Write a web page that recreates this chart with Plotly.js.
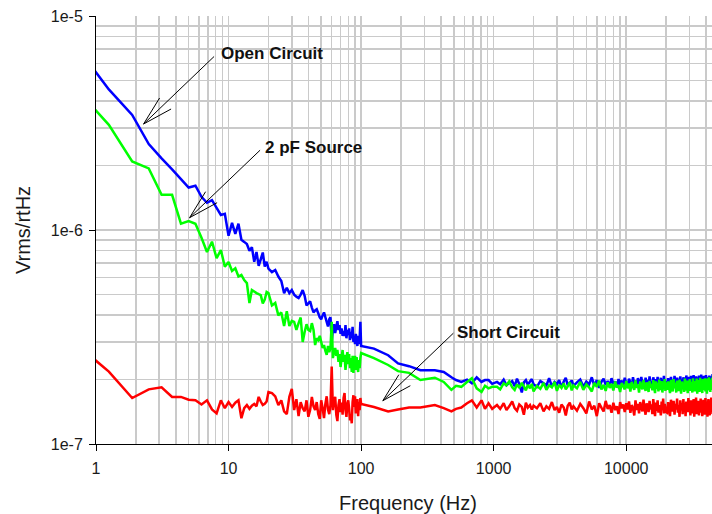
<!DOCTYPE html>
<html>
<head>
<meta charset="utf-8">
<script src="https://cdn.plot.ly/plotly-3.0.1.min.js"></script>
<style>
html,body{margin:0;padding:0;overflow:hidden;background:#fff;}
#chart{width:720px;height:514px;}
</style>
</head>
<body>
<div id="chart"></div>
<script>
// Frequency bins (Hz), shared by all three series
const freqHz = [
  0.625, 1.25, 1.875, 2.5, 3.125, 3.75, 4.375, 5, 5.625, 6.25, 6.875, 7.5, 8.125, 8.75, 9.375, 10,
  10.625, 11.25, 11.875, 12.5, 13.125, 13.75, 14.375, 15, 15.625, 16.25, 16.875, 17.5, 18.125, 18.75, 19.375, 20,
  21.25, 22.5, 23.75, 25, 26.25, 27.5, 28.75, 30, 31.25, 32.5, 33.75, 35, 36.25, 37.5, 38.75, 40,
  41.25, 42.5, 43.75, 45, 46.25, 47.5, 48.75, 50, 51.25, 52.5, 53.75, 55, 56.25, 57.5, 58.75, 60,
  61.25, 62.5, 63.75, 65, 66.25, 67.5, 68.75, 70, 71.25, 72.5, 73.75, 75, 76.25, 77.5, 78.75, 80,
  81.25, 82.5, 83.75, 85, 86.25, 87.5, 88.75, 90, 91.25, 92.5, 93.75, 95, 96.25, 97.5, 98.75, 100,
  125, 160, 190, 230, 280, 360, 420, 480, 520, 570, 630, 685, 745, 810, 860, 915, 975,
  1060, 1120, 1190, 1250, 1310, 1380, 1440, 1500, 1560, 1630, 1690, 1750, 1810, 1880, 1940, 2000,
  2120, 2250, 2380, 2500, 2620, 2750, 2880, 3000, 3120, 3250, 3380, 3500, 3620, 3750, 3880, 4000,
  4250, 4500, 4750, 5000, 5250, 5500, 5750, 6000, 6250, 6500, 6750, 7000, 7250, 7500, 7750, 8000,
  8250, 8500, 8750, 9000, 9250, 9500, 9750, 10000,
  10250, 10500, 10750, 11000, 11250, 11500, 11750, 12000, 12250, 12500, 12750, 13000, 13250, 13500, 13750, 14000,
  14250, 14500, 14750, 15000, 15250, 15500, 15750, 16000, 16250, 16500, 16750, 17000, 17250, 17500, 17750, 18000,
  18250, 18500, 18750, 19000, 19250, 19500, 19750, 20000,
  20350, 20700, 21050, 21400, 21750, 22100, 22450, 22800, 23150, 23500, 23850, 24200, 24550, 24900, 25250, 25600,
  25950, 26300, 26650, 27000, 27350, 27700, 28050, 28400, 28750, 29100, 29450, 29800, 30150, 30500, 30850, 31200,
  31550, 31900, 32250, 32600, 32950, 33300, 33650, 34000, 34350, 34700, 35050, 35400, 35750, 36100, 36450, 36800,
  37150, 37500, 37850, 38200, 38550, 38900, 39250, 39600, 39950, 40300, 40650, 41000, 41350, 41700, 42050, 42400,
  42750, 43100, 43450, 43800, 44150, 44500, 44850, 45200
];

// Noise density, in units of 1e-7 Vrms/rtHz
const openCircuit = [
  80, 45.4, 34.5, 25.2, 21.6, 19.2, 17.3, 15.8, 16.1, 14.3, 13.4, 13.8, 12.7, 11.75, 11.9, 9.4,
  10.8, 9.6, 10.7, 9.0, 8.8, 8.6, 8.0, 8.3, 7.1, 7.9, 6.8, 7.3, 7.85, 6.75, 7.1, 6.6,
  6.36, 6.50, 6.06, 5.78, 5.07, 5.37, 5.07, 5.24, 4.99, 4.88, 4.81, 4.99, 5.24, 4.93, 4.44, 4.54,
  4.64, 4.34, 4.12, 4.21, 4.26, 4.08, 3.91, 3.83, 3.99, 4.12, 3.91, 3.72, 3.54, 3.83, 3.91, 3.00,
  3.41, 3.63, 3.30, 3.53, 3.75, 3.41, 3.59, 3.27, 3.47, 3.20, 3.37, 3.20, 3.59, 3.12, 3.41, 3.23,
  3.47, 3.06, 3.34, 3.12, 3.53, 3.00, 3.20, 2.93, 3.27, 3.06, 2.87, 3.20, 2.93, 3.12, 3.72, 2.87,
  2.79, 2.60, 2.38, 2.31, 2.21, 2.21, 2.17, 2.05, 1.99, 1.95, 2.00, 1.92, 2.05, 1.95, 1.99, 1.99, 1.91,
  1.95, 1.90, 2.00, 1.88, 1.93, 1.97, 1.86, 2.02, 1.91, 1.74, 1.94, 1.99, 1.89, 1.96, 2.01, 1.90,
  1.85, 1.97, 1.92, 1.88, 2.03, 1.86, 1.95, 1.90, 1.99, 1.84, 1.96, 2.04, 1.88, 1.93, 1.98, 1.87,
  1.94, 2.00, 1.85, 1.96, 1.90, 2.05, 1.87, 1.99, 1.83, 1.95, 2.02, 1.89, 1.97, 1.86, 2.03, 1.91,
  1.96, 1.84, 2.01, 1.90, 1.98, 1.87, 2.04, 1.92,
  1.88, 2.02, 1.93, 1.85, 2.05, 1.90, 1.98, 1.86, 2.03, 1.94, 1.89, 2.06, 1.91, 1.97, 1.85, 2.04,
  1.93, 1.99, 1.88, 2.07, 1.92, 1.96, 1.87, 2.05, 1.95, 1.84, 2.01, 1.90, 2.06, 1.88, 1.97, 1.93,
  2.04, 1.86, 1.99, 1.91, 2.08, 1.89, 1.96, 1.92,
  1.90, 2.03, 1.94, 1.86, 2.06, 1.93, 1.99, 1.87, 2.08, 1.95, 1.85, 2.04, 1.89, 2.00, 1.96, 2.07,
  1.92, 1.98, 1.86, 2.05, 1.94, 2.02, 1.88, 2.09, 1.95, 1.99, 1.87, 2.06, 1.97, 1.91, 2.08, 1.90,
  2.03, 1.96, 2.10, 1.89, 2.01, 1.94, 2.07, 1.88, 1.99, 2.05, 1.92, 2.09, 1.87, 2.02, 1.95, 2.11,
  1.90, 2.04, 1.97, 1.88, 2.08, 1.93, 2.00, 1.91, 2.10, 1.95, 2.03, 1.89, 2.06, 1.98, 1.92, 2.09,
  1.94, 2.01, 1.88, 2.07, 1.96, 2.04, 2.12, 1.99
];

const source2pF = [
  49.7, 31.0, 20.9, 19.4, 14.6, 14.6, 10.7, 11.0, 10.7, 9.2, 7.89, 8.82, 7.38, 8.06, 6.74, 7.09,
  6.43, 6.62, 6.06, 6.17, 5.84, 5.65, 4.56, 5.24, 5.16, 5.07, 5.01, 4.96, 4.54, 4.73, 5.13, 5.07,
  4.44, 4.56, 3.99, 4.12, 3.56, 4.17, 3.56, 3.76, 3.72, 3.41, 3.67, 3.90, 3.00, 3.34, 3.63, 3.41,
  3.37, 3.67, 3.41, 2.90, 3.12, 3.06, 3.20, 3.00, 2.81, 2.90, 2.72, 2.61, 2.87, 2.69, 2.81, 3.72,
  2.52, 2.69, 2.81, 2.58, 2.75, 2.42, 2.63, 2.29, 2.52, 2.75, 2.42, 2.61, 2.22, 2.47, 2.69, 2.36,
  2.63, 2.26, 2.52, 2.17, 2.58, 2.15, 2.47, 2.58, 2.22, 2.55, 2.31, 2.17, 2.47, 2.26, 2.52, 2.66,
  2.52, 2.34, 2.19, 2.15, 1.99, 2.04, 1.95, 1.79, 1.87, 1.85, 1.95, 2.03, 1.82, 1.75, 1.87, 1.82, 1.85,
  1.85, 1.80, 1.92, 1.88, 1.96, 1.84, 1.79, 1.90, 1.83, 1.93, 1.86, 1.78, 1.89, 1.82, 1.91, 1.76,
  1.87, 1.81, 1.93, 1.79, 1.88, 1.84, 1.95, 1.77, 1.89, 1.83, 1.92, 1.80, 1.86, 1.94, 1.78, 1.88,
  1.82, 1.95, 1.79, 1.90, 1.84, 1.76, 1.93, 1.85, 1.98, 1.80, 1.89, 1.77, 1.94, 1.83, 1.91, 1.78,
  1.96, 1.84, 1.88, 1.75, 1.93, 1.86, 1.80, 1.97,
  1.82, 1.92, 1.76, 1.95, 1.85, 1.79, 1.98, 1.83, 1.90, 1.74, 1.96, 1.86, 1.80, 1.99, 1.84, 1.77,
  1.94, 1.87, 1.75, 1.97, 1.83, 1.91, 1.78, 1.99, 1.85, 1.73, 1.96, 1.81, 1.93, 1.76, 2.00, 1.84,
  1.79, 1.97, 1.74, 1.90, 1.86, 2.01, 1.77, 1.94,
  1.79, 1.96, 1.84, 1.73, 1.99, 1.86, 1.76, 2.01, 1.82, 1.93, 1.74, 1.98, 1.85, 1.77, 2.00, 1.88,
  1.72, 1.96, 1.83, 1.92, 1.75, 2.02, 1.86, 1.78, 1.98, 1.73, 1.94, 1.84, 2.01, 1.77, 1.95, 1.87,
  1.74, 2.03, 1.81, 1.97, 1.76, 1.92, 1.85, 2.02, 1.72, 1.95, 1.83, 1.99, 1.75, 2.04, 1.80, 1.93,
  1.86, 1.73, 2.01, 1.79, 1.96, 1.84, 2.03, 1.76, 1.91, 1.98, 1.72, 2.02, 1.85, 1.78, 2.05, 1.82,
  1.94, 1.75, 2.00, 1.87, 1.79, 2.04, 1.90, 2.10
];

const shortCircuit = [
  3.13, 2.18, 1.64, 1.80, 1.84, 1.66, 1.66, 1.61, 1.60, 1.53, 1.60, 1.45, 1.39, 1.60, 1.47, 1.57,
  1.49, 1.56, 1.60, 1.32, 1.47, 1.52, 1.46, 1.51, 1.54, 1.50, 1.66, 1.58, 1.52, 1.54, 1.58, 1.75,
  1.73, 1.67, 1.52, 1.60, 1.42, 1.38, 1.66, 1.81, 1.44, 1.62, 1.35, 1.57, 1.47, 1.42, 1.60, 1.34,
  1.44, 1.66, 1.50, 1.44, 1.57, 1.38, 1.31, 1.60, 1.47, 1.32, 1.54, 1.67, 1.45, 1.38, 1.52, 2.30,
  1.44, 1.60, 1.66, 1.37, 1.28, 1.52, 1.62, 1.41, 1.56, 1.37, 1.64, 1.73, 1.44, 1.34, 1.54, 1.60,
  1.46, 1.29, 1.38, 1.25, 1.57, 1.69, 1.49, 1.67, 1.39, 1.52, 1.62, 1.35, 1.57, 1.44, 1.64, 1.54,
  1.49, 1.42, 1.45, 1.48, 1.48, 1.52, 1.47, 1.42, 1.46, 1.48, 1.55, 1.60, 1.48, 1.60, 1.46, 1.55, 1.46,
  1.52, 1.46, 1.55, 1.44, 1.50, 1.58, 1.47, 1.43, 1.53, 1.49, 1.37, 1.56, 1.48, 1.52, 1.45, 1.51,
  1.47, 1.55, 1.42, 1.50, 1.46, 1.57, 1.44, 1.49, 1.40, 1.53, 1.48, 1.36, 1.51, 1.56, 1.45, 1.50,
  1.43, 1.54, 1.47, 1.39, 1.58, 1.45, 1.51, 1.35, 1.55, 1.48, 1.42, 1.59, 1.46, 1.52, 1.40, 1.56,
  1.44, 1.50, 1.38, 1.57, 1.47, 1.53, 1.41, 1.55,
  1.45, 1.58, 1.40, 1.52, 1.47, 1.36, 1.60, 1.44, 1.54, 1.39, 1.57, 1.48, 1.42, 1.61, 1.46, 1.37,
  1.55, 1.50, 1.41, 1.59, 1.45, 1.53, 1.38, 1.62, 1.48, 1.35, 1.56, 1.43, 1.60, 1.40, 1.52, 1.47,
  1.36, 1.58, 1.44, 1.63, 1.39, 1.54, 1.46, 1.41,
  1.40, 1.57, 1.46, 1.35, 1.61, 1.49, 1.42, 1.59, 1.37, 1.54, 1.45, 1.63, 1.40, 1.52, 1.34, 1.60,
  1.47, 1.55, 1.38, 1.62, 1.44, 1.51, 1.35, 1.58, 1.48, 1.41, 1.64, 1.46, 1.53, 1.36, 1.60, 1.43,
  1.56, 1.39, 1.62, 1.34, 1.50, 1.45, 1.65, 1.38, 1.55, 1.42, 1.59, 1.36, 1.52, 1.47, 1.63, 1.40,
  1.57, 1.35, 1.49, 1.61, 1.43, 1.54, 1.37, 1.64, 1.46, 1.40, 1.58, 1.34, 1.53, 1.62, 1.44, 1.50,
  1.36, 1.60, 1.47, 1.65, 1.41, 1.55, 1.38, 1.52
];

const UNIT = 1e-7;
const seriesNames = ['Open Circuit', '2 pF Source', 'Short Circuit'];
const xTickVals = [1, 10, 100, 1000, 10000];
const xTickText = ['1', '10', '100', '1000', '10000'];
const yTickVals = [1e-7, 1e-6, 1e-5];
const yTickText = ['1e-7', '1e-6', '1e-5'];

const FONT = 'Liberation Sans, Arial, Helvetica, sans-serif';
const GRID = '#cacaca';

function scaled(arr) { return arr.map(v => v * UNIT); }

// minor grid positions (2..9 in every decade)
const xMinor = [], yMinor = [];
[1, 10, 100, 1000, 10000].forEach(d => { for (let k = 2; k <= 9; k++) xMinor.push(d * k); });
[1e-7, 1e-6].forEach(d => { for (let k = 2; k <= 9; k++) yMinor.push(d * k); });

const lineStyle = (c) => ({ color: c, width: 2.5, simplify: false });

const traces = [
  { x: freqHz, y: scaled(openCircuit), name: seriesNames[0], mode: 'lines', line: lineStyle('#0000ff') },
  { x: freqHz, y: scaled(source2pF), name: seriesNames[1], mode: 'lines', line: lineStyle('#00ff00') },
  { x: freqHz, y: scaled(shortCircuit), name: seriesNames[2], mode: 'lines', line: lineStyle('#ff0000') }
];

// callouts: label placement and arrow tip (log10 axis units)
const callouts = [
  { text: seriesNames[0], tx: 0.928, ty: -5.173, px: 0.359, py: -5.5047 },
  { text: seriesNames[1], tx: 1.262, ty: -5.6136, px: 0.706, py: -5.9425 },
  { text: seriesNames[2], tx: 2.712, ty: -6.478, px: 2.164, py: -6.7977 }
];
const annotations = [];
const shapes = [];
callouts.forEach(c => {
  annotations.push({
    x: c.tx, y: c.ty, xref: 'x', yref: 'y', text: '<b>' + c.text + '</b>', showarrow: false,
    xanchor: 'left', yanchor: 'middle', font: { family: FONT, size: 17, color: '#111' }
  });
  // shaft + two open barbs, pixel offsets from the tip (y up)
  [[70.5, 67.5], [16, 26], [27.5, 15]].forEach(o => {
    shapes.push({
      type: 'line', xref: 'x', yref: 'y', xsizemode: 'pixel', ysizemode: 'pixel',
      xanchor: Math.pow(10, c.px), yanchor: Math.pow(10, c.py),
      x0: 0, y0: 0, x1: o[0], y1: o[1],
      line: { color: '#000', width: 1 }, layer: 'above'
    });
  });
});

const layout = {
  width: 720, height: 514,
  margin: { l: 96, r: 0, t: 16, b: 70 },
  paper_bgcolor: '#fff', plot_bgcolor: '#fff',
  showlegend: false,
  font: { family: FONT, size: 16, color: '#1a1a1a' },
  xaxis: {
    type: 'log', range: [0, Math.log10(51000)],
    tickmode: 'array', tickvals: xTickVals, ticktext: xTickText,
    ticks: 'outside', ticklen: 6, tickwidth: 1, tickcolor: '#000', ticklabelstandoff: 4,
    showline: true, linecolor: '#000', linewidth: 1, mirror: false,
    showgrid: true, gridcolor: GRID, gridwidth: 1.5, zeroline: false,
    minor: { tickmode: 'array', tickvals: xMinor, showgrid: true, gridcolor: GRID, gridwidth: 1.5, ticks: '' },
    tickfont: { family: FONT, size: 16, color: '#1a1a1a' },
    title: { text: 'Frequency (Hz)', font: { family: FONT, size: 20, color: '#1a1a1a' }, standoff: 22 }
  },
  yaxis: {
    type: 'log', range: [-7, -5],
    tickmode: 'array', tickvals: yTickVals, ticktext: yTickText,
    ticks: 'outside', ticklen: 6, tickwidth: 1, tickcolor: '#000', ticklabelstandoff: 3,
    showline: true, linecolor: '#000', linewidth: 1, mirror: false,
    showgrid: true, gridcolor: GRID, gridwidth: 1.5, zeroline: false,
    minor: { tickmode: 'array', tickvals: yMinor, showgrid: true, gridcolor: GRID, gridwidth: 1.5, ticks: '' },
    tickfont: { family: FONT, size: 16, color: '#1a1a1a' },
    title: { text: 'Vrms/rtHz', font: { family: FONT, size: 20, color: '#1a1a1a' }, standoff: 14 }
  },
  annotations: annotations,
  shapes: shapes
};

Plotly.newPlot('chart', traces, layout, { staticPlot: true, displayModeBar: false });
</script>
</body>
</html>
